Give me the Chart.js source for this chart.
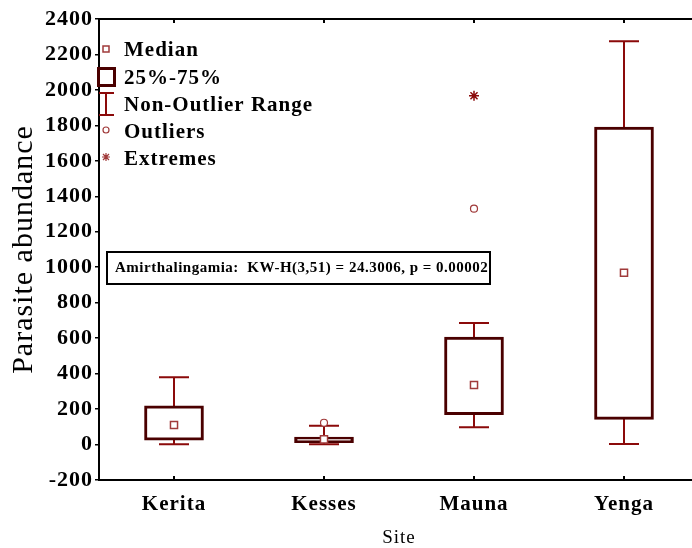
<!DOCTYPE html>
<html>
<head>
<meta charset="utf-8">
<script src="https://cdn.jsdelivr.net/npm/chart.js"></script>
<style>
  html, body { margin: 0; padding: 0; background: #fff; overflow: hidden; }
  #wrap { position: relative; width: 720px; height: 548px; }
</style>
</head>
<body>
<div id="wrap"><canvas id="c"></canvas></div>
<script>
  // values
  const sites = ['Kerita', 'Kesses', 'Mauna', 'Yenga'];
  const q1 = [25, 10, 168, 142];
  const q3 = [219, 42, 606, 1791];
  const medians = [110, 29, 336, 969];
  const whiskerLow = [1, 1, 97, 3];
  const whiskerHigh = [379, 106, 685, 2274];
  const outliers = [null, 123, 1330, null];
  const extremes = [null, null, 1967, null];
  const legendItems = ['Median', '25%-75%', 'Non-Outlier Range', 'Outliers', 'Extremes'];
  const statText = 'Amirthalingamia:  KW-H(3,51) = 24.3006, p = 0.00002';

  const SERIF = '"Liberation Serif", "Times New Roman", serif';
  const BOX = '#4a0000';
  const WHISK = '#8b0a0a';
  const MARK = '#a03a3a';

  // whiskers, frame and inner ticks, drawn through the scales
  const boxExtras = {
    id: 'boxExtras',
    beforeDraw(chart) {
      // the original uses slightly spaced lettering
      chart.ctx.letterSpacing = '1px';
    },
    beforeDatasetsDraw(chart) {
      const ctx = chart.ctx;
      const x = chart.scales.x, y = chart.scales.y;
      ctx.save();
      ctx.strokeStyle = WHISK;
      ctx.lineWidth = 2;
      sites.forEach((s, i) => {
        const px = x.getPixelForValue(i);
        const lo = y.getPixelForValue(whiskerLow[i]);
        const hi = y.getPixelForValue(whiskerHigh[i]);
        ctx.beginPath();
        ctx.moveTo(px, lo); ctx.lineTo(px, hi);
        ctx.moveTo(px - 15, lo); ctx.lineTo(px + 15, lo);
        ctx.moveTo(px - 15, hi); ctx.lineTo(px + 15, hi);
        ctx.stroke();
      });
      ctx.restore();
    },
    afterDraw(chart) {
      const ctx = chart.ctx;
      const a = chart.chartArea;
      const x = chart.scales.x;
      ctx.save();
      ctx.strokeStyle = '#000';
      ctx.lineWidth = 2;
      ctx.beginPath();
      ctx.moveTo(a.left - 1, a.top); ctx.lineTo(a.right, a.top);
      sites.forEach((s, i) => {
        const px = x.getPixelForValue(i);
        ctx.moveTo(px, a.top); ctx.lineTo(px, a.top + 4);
        ctx.moveTo(px, a.bottom); ctx.lineTo(px, a.bottom - 4);
      });
      ctx.stroke();

      // legend
      const lx = 106, ly0 = 51, step = 27.2;
      ctx.font = 'bold 21px ' + SERIF;
      ctx.letterSpacing = '1px';
      ctx.fillStyle = '#000';
      ctx.textBaseline = 'middle';
      legendItems.forEach((t, i) => ctx.fillText(t, 124, ly0 + i * step));
      ctx.lineWidth = 1.5;
      ctx.strokeStyle = MARK;
      ctx.strokeRect(lx - 3, 46, 6, 6);
      ctx.lineWidth = 3;
      ctx.strokeStyle = BOX;
      ctx.strokeRect(lx - 7.5, 68.5, 16, 17);
      ctx.lineWidth = 2;
      ctx.strokeStyle = WHISK;
      ctx.beginPath();
      ctx.moveTo(lx - 7, 93); ctx.lineTo(lx + 8, 93);
      ctx.moveTo(lx, 93); ctx.lineTo(lx, 115);
      ctx.moveTo(lx - 7, 115); ctx.lineTo(lx + 8, 115);
      ctx.stroke();
      ctx.lineWidth = 1.2;
      ctx.strokeStyle = MARK;
      ctx.beginPath(); ctx.arc(lx, 130, 3, 0, Math.PI * 2); ctx.stroke();
      ctx.beginPath();
      ctx.moveTo(lx - 4, 157); ctx.lineTo(lx + 4, 157);
      ctx.moveTo(lx, 153); ctx.lineTo(lx, 161);
      ctx.moveTo(lx - 3, 154); ctx.lineTo(lx + 3, 160);
      ctx.moveTo(lx + 3, 154); ctx.lineTo(lx - 3, 160);
      ctx.stroke();

      // test statistic box
      ctx.lineWidth = 2;
      ctx.strokeStyle = '#000';
      ctx.strokeRect(107, 252, 383, 32);
      ctx.font = 'bold 15px ' + SERIF;
      ctx.letterSpacing = '0.5px';
      ctx.fillText(statText, 115, 268);
      ctx.restore();
    }
  };

  new Chart(document.getElementById('c'), {
    type: 'bar',
    data: {
      labels: sites,
      datasets: [
        {
          type: 'line', label: 'Median', data: medians, showLine: false,
          pointStyle: 'rect', pointRadius: 5, pointBorderWidth: 1.5,
          pointBorderColor: MARK, pointBackgroundColor: '#fff', order: 1
        },
        {
          type: 'line', label: 'Outliers', data: outliers, showLine: false,
          pointStyle: 'circle', pointRadius: 3.5, pointBorderWidth: 1.2,
          pointBorderColor: MARK, pointBackgroundColor: '#fff', order: 1
        },
        {
          type: 'line', label: 'Extremes', data: extremes, showLine: false,
          pointStyle: 'star', pointRadius: 5, pointBorderWidth: 1.5,
          pointBorderColor: WHISK, pointBackgroundColor: WHISK, order: 1
        },
        {
          label: '25%-75%', data: q1.map((v, i) => [v, q3[i]]),
          backgroundColor: '#fff', borderColor: BOX, borderWidth: 3,
          borderSkipped: false, barThickness: 59, order: 10
        }
      ]
    },
    options: {
      responsive: true,
      maintainAspectRatio: false,
      animation: false,
      layout: { padding: { top: 19, right: 21, left: 0, bottom: 0 } },
      plugins: { legend: { display: false }, tooltip: { enabled: false } },
      scales: {
        x: {
          offset: true,
          grid: { display: false },
          border: { display: true, color: '#000', width: 2 },
          ticks: { color: '#000', padding: 4, font: { family: SERIF, size: 21, weight: 'bold' } },
          title: { display: true, text: 'Site', color: '#000', padding: { top: 0, bottom: 0 }, font: { family: SERIF, size: 19, lineHeight: 1.1 } },
          afterFit(s) { s.height = 68; }
        },
        y: {
          min: -200, max: 2400,
          grid: { display: true, drawOnChartArea: false, drawTicks: true, tickLength: 4, color: '#000', lineWidth: 1.5 },
          border: { display: true, color: '#000', width: 2 },
          ticks: {
            stepSize: 200, color: '#000', padding: 2,
            font: { family: SERIF, size: 22, weight: 'bold' },
            callback: (v) => String(v)
          },
          title: { display: true, text: 'Parasite abundance', color: '#000', padding: { top: 6 }, font: { family: SERIF, size: 30 } },
          afterFit(s) { s.width = 99; }
        }
      }
    },
    plugins: [boxExtras]
  });
</script>
</body>
</html>
